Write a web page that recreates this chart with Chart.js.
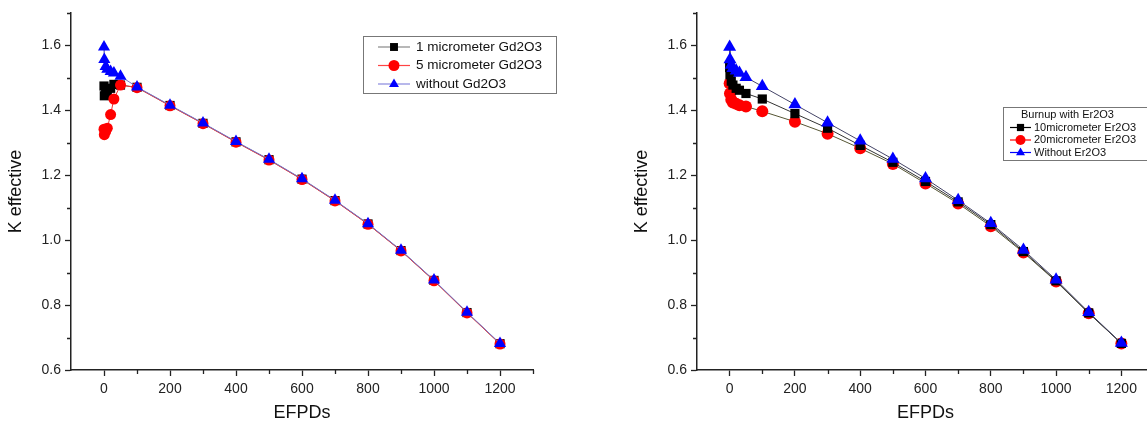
<!DOCTYPE html>
<html>
<head>
<meta charset="utf-8">
<script src="https://cdn.jsdelivr.net/npm/chart.js@4.4.1/dist/chart.umd.min.js"></script>
<style>
  html, body { margin: 0; padding: 0; background: #fff; overflow: hidden; width: 1147px; height: 425px; }
  .box { position: absolute; top: 0; height: 425px; }
  #leftBox { left: 0; width: 560px; }
  #rightBox { left: 626px; width: 560px; }
</style>
</head>
<body>
<div class="box" id="leftBox"><canvas id="leftChart" width="560" height="425"></canvas></div>
<div class="box" id="rightBox"><canvas id="rightChart" width="560" height="425"></canvas></div>
<script>
// burnup steps (EFPDs)
const efpd = [0, 1, 5, 10, 20, 30, 50, 100, 200, 300, 400, 500, 600, 700, 800, 900, 1000, 1100, 1200];

// left panel: Gd2O3
const gd1um = [1.475, 1.445, 1.45, 1.455, 1.468, 1.48, 1.478, 1.471, 1.415, 1.36, 1.303, 1.248, 1.188, 1.122, 1.05, 0.968, 0.876, 0.777, 0.681];
const gd5um = [1.342, 1.325, 1.335, 1.345, 1.387, 1.435, 1.478, 1.47, 1.414, 1.359, 1.302, 1.247, 1.187, 1.121, 1.049, 0.967, 0.875, 0.776, 0.68];
const noGd  = [1.595, 1.557, 1.535, 1.527, 1.52, 1.515, 1.505, 1.472, 1.416, 1.361, 1.304, 1.249, 1.189, 1.123, 1.051, 0.969, 0.877, 0.778, 0.682];

// right panel: Er2O3
const er10um = [1.532, 1.51, 1.49, 1.478, 1.468, 1.462, 1.452, 1.435, 1.39, 1.345, 1.292, 1.24, 1.181, 1.118, 1.048, 0.965, 0.875, 0.776, 0.682];
const er20um = [1.483, 1.452, 1.433, 1.424, 1.42, 1.416, 1.412, 1.397, 1.365, 1.328, 1.283, 1.235, 1.175, 1.113, 1.043, 0.962, 0.873, 0.775, 0.682];
const noEr   = [1.595, 1.557, 1.54, 1.53, 1.522, 1.515, 1.502, 1.474, 1.418, 1.362, 1.306, 1.25, 1.19, 1.123, 1.052, 0.97, 0.878, 0.778, 0.683];

const leftLabels = ['1 micrometer Gd2O3', '5 micrometer Gd2O3', 'without Gd2O3'];
const rightLabels = ['10micrometer Er2O3', '20micrometer Er2O3', 'Without Er2O3'];
const rightLegendTitle = 'Burnup with Er2O3';

const xTicks = [0, 200, 400, 600, 800, 1000, 1200];
const yTicks = [0.6, 0.8, 1.0, 1.2, 1.4, 1.6];

const FONT = '"Liberation Sans", Arial, sans-serif';
const AXIS = '#222';

const pts = arr => arr.map((v, i) => ({ x: efpd[i], y: v }));

function marker(ctx, style, x, y, r, color) {
    ctx.save();
    ctx.fillStyle = color;
    ctx.beginPath();
    if (style === 'rect') {
        ctx.rect(x - r * 0.72, y - r * 0.72, r * 1.44, r * 1.44);
    } else if (style === 'circle') {
        ctx.arc(x, y, r, 0, Math.PI * 2);
    } else {
        ctx.moveTo(x, y - r);
        ctx.lineTo(x + r * 0.9, y + r * 0.55);
        ctx.lineTo(x - r * 0.9, y + r * 0.55);
        ctx.closePath();
    }
    ctx.fill();
    ctx.restore();
}

// minor ticks (every 100 EFPD / 0.1 k) drawn shorter than the labelled ones
const minorTicks = {
    id: 'minorTicks',
    afterDraw(chart) {
        const { ctx, scales: { x, y } } = chart;
        ctx.save();
        ctx.strokeStyle = AXIS;
        ctx.lineWidth = 1.3;
        ctx.beginPath();
        for (let v = 100; v <= 1300; v += 200) {
            const px = Math.round(x.getPixelForValue(v)) + 0.5;
            ctx.moveTo(px, y.bottom);
            ctx.lineTo(px, y.bottom + 4);
        }
        for (let k = 7; k <= 17; k += 2) {
            const py = Math.round(y.getPixelForValue(k / 10)) + 0.5;
            ctx.moveTo(x.left, py);
            ctx.lineTo(x.left - 4, py);
        }
        ctx.stroke();
        ctx.restore();
    }
};

const legendBox = {
    id: 'legendBox',
    afterDraw(chart, args, opts) {
        const ctx = chart.ctx;
        ctx.save();
        ctx.strokeStyle = '#777';
        ctx.lineWidth = 1;
        ctx.strokeRect(opts.x + 0.5, opts.y + 0.5, opts.w, opts.h);
        ctx.font = opts.fontSize + 'px ' + FONT;
        ctx.fillStyle = '#111';
        ctx.textBaseline = 'middle';
        let rowY = opts.y + opts.first;
        if (opts.title) {
            ctx.fillText(opts.title, opts.x + opts.titleX, rowY);
            rowY += opts.row;
        }
        opts.items.forEach(it => {
            ctx.strokeStyle = it.line;
            ctx.lineWidth = 1.2;
            ctx.beginPath();
            ctx.moveTo(opts.x + opts.lx0, rowY);
            ctx.lineTo(opts.x + opts.lx1, rowY);
            ctx.stroke();
            marker(ctx, it.style, opts.x + (opts.lx0 + opts.lx1) / 2, rowY, opts.mr, it.color);
            ctx.fillStyle = '#111';
            ctx.fillText(it.label, opts.x + opts.tx, rowY);
            rowY += opts.row;
        });
        ctx.restore();
    }
};

function makeChart(id, series, legendOpts, padRight) {
    return new Chart(document.getElementById(id), {
        type: 'line',
        data: { datasets: series },
        plugins: [minorTicks, legendBox],
        options: {
            responsive: false,
            animation: false,
            layout: { padding: { top: 13, right: padRight, left: 0, bottom: 0 } },
            plugins: {
                legend: { display: false },
                tooltip: { enabled: false },
                legendBox: legendOpts
            },
            scales: {
                x: {
                    type: 'linear',
                    min: -100, max: 1300,
                    afterBuildTicks: s => { s.ticks = xTicks.map(v => ({ value: v })); },
                    afterFit: s => { s.height = 55; },
                    ticks: { color: AXIS, font: { family: FONT, size: 14 }, padding: 5, maxRotation: 0, callback: v => v },
                    grid: { drawOnChartArea: false, tickLength: 6, tickColor: AXIS, tickWidth: 1.3 },
                    border: { color: AXIS, width: 1.5 },
                    title: { display: true, text: 'EFPDs', color: '#111', font: { family: FONT, size: 18 }, padding: { top: 0, bottom: 1 } }
                },
                y: {
                    min: 0.6, max: 1.7,
                    afterBuildTicks: s => { s.ticks = yTicks.map(v => ({ value: v })); },
                    afterFit: s => { s.width = 71; },
                    ticks: { color: AXIS, font: { family: FONT, size: 14 }, padding: 4, callback: v => v.toFixed(1) },
                    grid: { drawOnChartArea: false, tickLength: 6, tickColor: AXIS, tickWidth: 1.3 },
                    border: { color: AXIS, width: 1.5 },
                    title: { display: true, text: 'K effective', color: '#111', font: { family: FONT, size: 18 }, padding: { top: 5, bottom: 0 } }
                }
            }
        }
    });
}

function ds(label, data, style, color, line, r, order) {
    return {
        label, data: pts(data), order,
        borderColor: line, borderWidth: 1, tension: 0,
        pointStyle: style, pointRadius: r, pointBackgroundColor: color,
        pointBorderColor: color, pointBorderWidth: 0
    };
}

makeChart('leftChart', [
    ds(leftLabels[0], gd1um, 'rect', '#000', '#555', 6.5, 2),
    ds(leftLabels[1], gd5um, 'circle', '#f00', '#e33', 5.5, 1),
    ds(leftLabels[2], noGd, 'triangle', '#00f', '#77c', 7, 0)
], {
    x: 363, y: 36, w: 193, h: 57, fontSize: 13.5, first: 11, row: 18.5,
    lx0: 15, lx1: 47, tx: 53, mr: 5.5,
    items: [
        { label: leftLabels[0], style: 'rect', color: '#000', line: '#888' },
        { label: leftLabels[1], style: 'circle', color: '#f00', line: '#f44' },
        { label: leftLabels[2], style: 'triangle', color: '#00f', line: '#88d' }
    ]
}, 27);

makeChart('rightChart', [
    ds(rightLabels[0], er10um, 'rect', '#000', '#333', 6.5, 1),
    ds(rightLabels[1], er20um, 'circle', '#f00', '#553', 6, 2),
    ds(rightLabels[2], noEr, 'triangle', '#00f', '#446', 7.5, 0)
], {
    x: 377, y: 107, w: 180, h: 53, fontSize: 11, first: 8, row: 12.5,
    title: rightLegendTitle, titleX: 18,
    lx0: 7, lx1: 28, tx: 31, mr: 5,
    items: [
        { label: rightLabels[0], style: 'rect', color: '#000', line: '#000' },
        { label: rightLabels[1], style: 'circle', color: '#f00', line: '#f00' },
        { label: rightLabels[2], style: 'triangle', color: '#00f', line: '#00f' }
    ]
}, 32);
</script>
</body>
</html>
